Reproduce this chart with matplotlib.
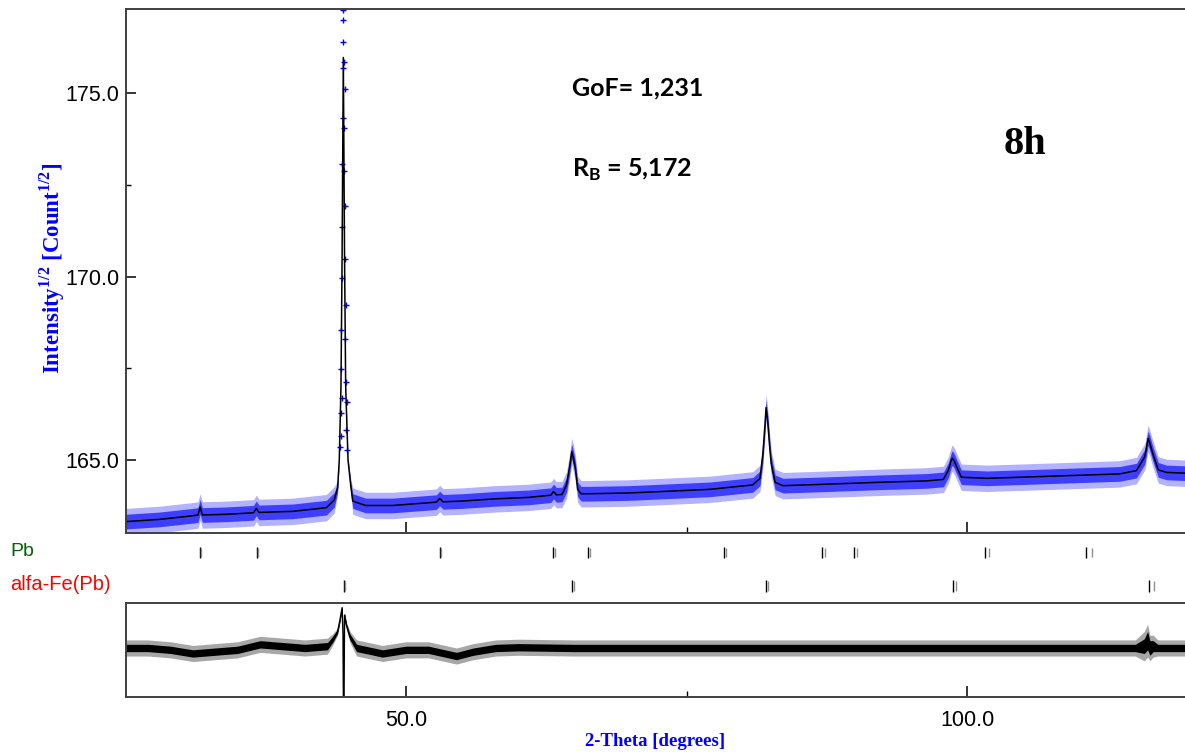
import matplotlib
matplotlib.use("Agg")
import matplotlib.pyplot as plt
from matplotlib.ticker import MultipleLocator, FormatStrFormatter, NullLocator

# ---- calculated profile (2-theta in degrees, sqrt intensity) ----
calc_tt = [25.0, 28.0, 31.0, 31.45, 31.65, 31.85, 34.0, 36.4, 36.65, 36.9,
           39.9, 42.9, 43.6, 43.9, 44.05, 44.2, 44.3, 44.41, 44.52, 44.62,
           44.83, 45.07, 45.25, 46.4, 48.8, 52.7, 53.0, 53.3, 55.0, 57.9,
           60.9, 62.9, 63.15, 63.4, 63.9, 64.3, 64.55, 64.77, 64.95, 65.1,
           65.3, 65.6, 66.3, 69.8, 72.8, 77.1, 80.9, 81.55, 81.8, 82.0,
           82.09, 82.25, 82.4, 82.55, 82.9, 83.6, 87.5, 92.0, 96.4, 97.9,
           98.35, 98.6, 98.69, 98.85, 99.1, 99.5, 101.8, 107.7, 113.6, 115.1,
           115.85, 116.14, 116.3, 116.55, 117.05, 117.8, 119.5]
calc_int = [163.32, 163.38, 163.48, 163.50, 163.72, 163.50, 163.52, 163.56, 163.68, 163.57,
            163.60, 163.70, 163.91, 164.24, 165.0, 167.0, 170.5, 175.97, 170.5, 167.0,
            165.0, 164.30, 163.88, 163.76, 163.76, 163.85, 163.95, 163.86, 163.88, 163.94,
            163.98, 164.04, 164.14, 164.05, 164.06, 164.32, 164.75, 165.23, 165.0, 164.75,
            164.20, 164.08, 164.08, 164.10, 164.14, 164.20, 164.32, 164.50, 165.14, 166.0,
            166.43, 166.0, 165.4, 164.9, 164.39, 164.30, 164.34, 164.39, 164.43, 164.47,
            164.73, 165.0, 165.05, 164.98, 164.8, 164.53, 164.50, 164.56, 164.62, 164.71,
            165.09, 165.59, 165.45, 165.18, 164.73, 164.66, 164.64]

# scatter of the observed points about the profile (dense core / outer fringe)
obs_core = [0.20] * 13 + [0.12] + [0.03] * 7 + [0.12] + [0.20] * 55
obs_outer = [0.36] * 13 + [0.20] + [0.05] * 7 + [0.20] + [0.36] * 55

# individual observed points on the strongest reflection
peak_obs_tt = [44.41, 44.41, 44.41, 44.50, 44.41, 44.56, 44.41, 44.50, 44.32, 44.50,
               44.59, 44.32, 44.59, 44.32, 44.62, 44.23, 44.56, 44.23, 44.65, 44.32,
               44.23, 44.71, 44.62, 44.18, 44.74, 44.12]
peak_obs_int = [177.26, 176.99, 176.39, 175.84, 175.68, 175.11, 174.32, 174.05, 173.07, 172.87,
                171.92, 171.35, 170.48, 169.96, 169.22, 168.54, 168.30, 167.48, 167.13, 166.69,
                166.28, 166.58, 165.82, 165.65, 165.27, 165.35]

# ---- difference curve (obs - calc) ----
diff_tt = [25, 27, 29, 31, 33, 35, 37, 39, 41, 43,
           43.5, 43.9, 44.1, 44.3, 44.38, 44.42, 44.47, 44.52, 44.7, 45.0,
           45.6, 47.9, 50, 52, 54.5, 56, 58, 60, 65, 70,
           75, 80, 85, 90, 95, 100, 105, 110, 115, 115.8,
           116.1, 116.3, 116.6, 117, 119.5]
diff_mid = [0.0, 0.0, -0.05, -0.15, -0.1, -0.05, 0.1, 0.05, 0.0, 0.05,
            0.25, 0.45, 0.75, 1.1, 0.4, -1.6, -1.6, 0.9, 0.6, 0.3,
            0.0, -0.15, -0.05, -0.05, -0.22, -0.1, 0.0, 0.02, 0.0, 0.0,
            0.0, 0.0, 0.0, 0.0, 0.0, 0.0, 0.0, 0.0, 0.0, 0.05,
            0.2, 0.0, 0.05, 0.0, 0.0]
diff_core = [0.1] * 10 + [0.08, 0.05, 0.05, 0.05, 0.03, 0.03, 0.03, 0.05, 0.05, 0.08] \
    + [0.1] * 19 + [0.2, 0.25, 0.2, 0.15] + [0.1] * 2
diff_outer = [0.22] * 10 + [0.15, 0.1, 0.08, 0.06, 0.05, 0.05, 0.05, 0.06, 0.1, 0.15] \
    + [0.22] * 19 + [0.4, 0.45, 0.35, 0.3] + [0.22] * 2

# ---- reflection positions (K-alpha1 / K-alpha2) ----
pb_tt = [31.64, 36.69, 53.03, 63.13, 66.25, 78.34, 87.10, 89.93, 101.6, 110.6]
pb_tt2 = [31.72, 36.78, 53.16, 63.29, 66.42, 78.55, 87.36, 90.21, 101.98, 111.1]
fe_tt = [44.47, 64.77, 82.06, 98.72, 116.22]
fe_tt2 = [44.58, 64.93, 82.28, 99.05, 116.66]

W, H = 1185, 753
XLIM = (25.04, 119.43)
BLUE = "#0000ff"
SPINE = "#404040"

fig = plt.figure(figsize=(W / 100, H / 100), dpi=100)
ax = fig.add_axes([126 / W, 1 - 533 / H, 1 - 126 / W, (533 - 9) / H])
ax_ref = fig.add_axes([126 / W, 1 - 603 / H, 1 - 126 / W, 70 / H])
ax_d = fig.add_axes([126 / W, 1 - 697 / H, 1 - 126 / W, 94 / H])

# main pattern
lo_o = [c - s for c, s in zip(calc_int, obs_outer)]
hi_o = [c + s for c, s in zip(calc_int, obs_outer)]
lo_c = [c - s for c, s in zip(calc_int, obs_core)]
hi_c = [c + s for c, s in zip(calc_int, obs_core)]
ax.fill_between(calc_tt, lo_o, hi_o, color=BLUE, alpha=0.3, linewidth=0)
ax.fill_between(calc_tt, lo_c, hi_c, color=BLUE, alpha=0.65, linewidth=0)
ax.plot(peak_obs_tt, peak_obs_int, "+", color=BLUE, ms=4, mew=1.0)
ax.plot(calc_tt, calc_int, color="black", lw=1.1)
ax.set_xlim(*XLIM)
ax.set_ylim(163.01, 177.29)

for a in (ax, ax_d):
    a.spines["right"].set_visible(False)
    for s in ("top", "left", "bottom"):
        a.spines[s].set_color(SPINE)
        a.spines[s].set_linewidth(1.4)
    a.xaxis.set_major_locator(MultipleLocator(50))
    a.xaxis.set_minor_locator(MultipleLocator(25))
    a.tick_params(axis="x", which="major", direction="in", length=8, width=1.1,
                  color="black", top=False)
    a.tick_params(axis="x", which="minor", direction="in", length=4, width=1.0,
                  color="black", top=False)

ax.tick_params(axis="x", which="both", labelbottom=False)
ax.yaxis.set_major_locator(MultipleLocator(5))
ax.yaxis.set_minor_locator(MultipleLocator(2.5))
ax.yaxis.set_major_formatter(FormatStrFormatter("%.1f"))
ax.tick_params(axis="y", which="major", direction="in", length=7, width=1.1, pad=5,
               labelsize=15.5)
ax.tick_params(axis="y", which="minor", direction="in", length=3.5, width=1.0)
for lab in ax.get_yticklabels():
    lab.set_family("Liberation Sans")

# reflection markers
ax_ref.set_xlim(*XLIM)
ax_ref.set_ylim(70, 0)
ax_ref.axis("off")
ax_ref.vlines(pb_tt, 14, 25, color="black", lw=1.0)
ax_ref.vlines(pb_tt2, 15, 24, color="#909090", lw=1.0)
ax_ref.vlines(fe_tt, 47, 59, color="black", lw=1.0)
ax_ref.vlines(fe_tt2, 48, 58, color="#909090", lw=1.0)

# difference curve
d_lo_o = [m - s for m, s in zip(diff_mid, diff_outer)]
d_hi_o = [m + s for m, s in zip(diff_mid, diff_outer)]
d_lo_c = [m - s for m, s in zip(diff_mid, diff_core)]
d_hi_c = [m + s for m, s in zip(diff_mid, diff_core)]
ax_d.fill_between(diff_tt, d_lo_o, d_hi_o, color="#505050", alpha=0.5, linewidth=0)
ax_d.fill_between(diff_tt, d_lo_c, d_hi_c, color="black", linewidth=0)
ax_d.plot(diff_tt, diff_mid, color="black", lw=1.0)
ax_d.set_xlim(*XLIM)
ax_d.set_ylim(-1.34, 1.23)
ax_d.yaxis.set_major_locator(NullLocator())
ax_d.xaxis.set_major_formatter(FormatStrFormatter("%.1f"))
ax_d.tick_params(axis="x", which="major", pad=9, labelsize=15.5)
for lab in ax_d.get_xticklabels():
    lab.set_family("Liberation Sans")

# labels and annotations
fig.text(52 / W, 1 - 268 / H, "Intensity$^\\mathregular{1/2}$ [Count$^\\mathregular{1/2}$]",
         rotation=90, ha="center", va="center", color=BLUE,
         family="Liberation Serif", weight="bold", fontsize=16.5)
fig.text(655 / W, 1 - 742 / H, "2-Theta [degrees]", ha="center", va="center",
         color=BLUE, family="Liberation Serif", weight="bold", fontsize=13.5)
fig.text(10 / W, 1 - 552 / H, "Pb", ha="left", va="center", color="#006400",
         family="Liberation Sans", fontsize=14)
fig.text(10 / W, 1 - 585 / H, "alfa-Fe(Pb)", ha="left", va="center", color="#ff0000",
         family="Liberation Sans", fontsize=14.5)
fig.text(572 / W, 1 - 88 / H, "GoF= 1,231", ha="left", va="center", color="black",
         family="Lato", weight="bold", fontsize=18)
fig.text(572 / W, 1 - 170 / H, "R$_\\mathregular{B}$ = 5,172", ha="left", va="center",
         color="black", family="Lato", weight="bold", fontsize=18)
fig.text(1025 / W, 1 - 145 / H, "8h", ha="center", va="center", color="black",
         family="Liberation Serif", weight="bold", fontsize=29)

fig.savefig("out.png", dpi=100)
